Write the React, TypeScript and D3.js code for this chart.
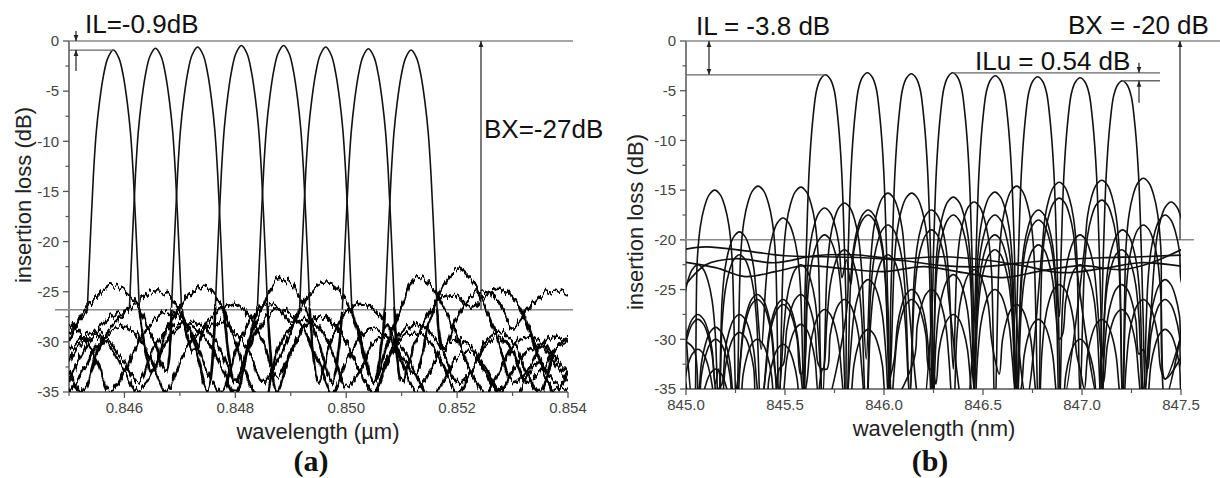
import React from "react";
import * as d3 from "d3";

// ---------- shared axis data ----------
const Y_TICKS = [0, -5, -10, -15, -20, -25, -30, -35];
const Y_MINOR = [-2.5, -7.5, -12.5, -17.5, -22.5, -27.5, -32.5];

// ---------- panel (a) ----------
const A_X_TICKS = [0.846, 0.848, 0.85, 0.852, 0.854];
const A_X_LABELS = ["0.846", "0.848", "0.850", "0.852", "0.854"];
const A_X_MINOR = [0.845, 0.847, 0.849, 0.851, 0.853];
const A_CENTERS = [0.8458, 0.84656, 0.84732, 0.84811, 0.84887, 0.84963, 0.8504, 0.85117];
const A_PEAKS = [-0.9, -0.72, -0.6, -0.45, -0.45, -0.6, -0.78, -0.9];
const A_LOBE_OFF = [-0.00047, -0.00044, -0.0004, -0.00036, -0.00031, -0.00025, -0.00018, -0.0001, 0, 0.0001, 0.00018, 0.00025, 0.00031, 0.00036, 0.0004, 0.00044, 0.00047];
const A_LOBE_DROP = [26, 22, 17, 12.5, 8.3, 5.2, 2.6, 0.8, 0, 0.8, 2.6, 5.2, 8.3, 12.5, 17, 22, 26];
const A_GRID = [0.845, 0.84525, 0.8455, 0.84575, 0.846, 0.84625, 0.8465, 0.84675, 0.847, 0.84725, 0.8475, 0.84775, 0.848, 0.84825, 0.8485, 0.84875, 0.849, 0.84925, 0.8495, 0.84975, 0.85, 0.85025, 0.8505, 0.85075, 0.851, 0.85125, 0.8515, 0.85175, 0.852, 0.85225, 0.8525, 0.85275, 0.853, 0.85325, 0.8535, 0.85375, 0.854];
const A_FLOOR_1 = [-29, -27.5, null, null, null, null, -33, -29, -26.5, -24.8, -24.6, -26.5, -30, -34, -36, -31, -28.5, -27.8, -28.5, -31, -34.5, -33, -30, -29.5, -30.5, -33, -36, -34, -31.5, -31, -32.5, -35, -36, -33.5, -32, -34, -35];
const A_FLOOR_2 = [-34, -31, -29, -27.5, -27, null, null, null, null, -31, -28, -26.8, -26.2, -27.5, -30, -33.5, -31, -28.5, -27.5, -28, -30, -33, -35, -32, -29.5, -29, -30, -32.5, -35, -33, -30.5, -29.5, -31, -34, -33, -31, -30];
const A_FLOOR_3 = [-30, -27, -25.5, -24.4, -24.8, -26.5, -29.5, -33, null, null, null, null, -34, -30.5, -28, -26.8, -27.2, -29, -32, -35, -32, -29.5, -28.8, -29.5, -32, -35, -33, -30.5, -29.8, -30.5, -33, -35, -33, -31, -30.5, -32, -34];
const A_FLOOR_4 = [-33, -35, -31, -28.5, -27.2, -26, -25, -25.2, -27, -30, -35, null, null, null, null, -35, -31, -28.5, -27.5, -28, -30, -33, -35, -31.5, -29, -28.2, -29, -31, -34, -33, -30, -29, -30, -33, -35, -31, -29.5];
const A_FLOOR_5 = [-31, -29.5, -29, -30, -32, -34, -31, -29, -28.2, -28.5, -30, -32.5, -35, -30, null, null, null, null, -34, -29.5, -27, -26.2, -26.8, -28.5, -31.5, -33, -28, -24.5, -22.9, -23.8, -26.5, -30, -34, -33, -30.5, -29.5, -30];
const A_FLOOR_6 = [-35, -33, -30.5, -29, -28.5, -29.5, -32, -35, -32, -29.5, -28.5, -28, -29, -31, -34, -32, -29, null, null, null, null, -30, -34, -30, -26.5, -23.6, -24.2, -26.5, -29.5, -33, -35, -33, -30.5, -29.5, -30, -31.5, -33];
const A_FLOOR_7 = [-32, -30, -29.5, -30.5, -33, -35, -33, -30, -28.5, -28, -28.8, -31, -34, -30, -26.5, -23.8, -24.2, -26.5, -30, -34, null, null, null, null, -34, -30, -27, -25.5, -25.5, -26.5, -25.5, -24.8, -25.5, -28, -32, -35, -33];
const A_FLOOR_8 = [-28, -29.5, -32, -35, -33, -30, -28, -27, -27.5, -29.5, -33, -35, -31, -28, -26.5, -26.5, -28, -26, -24.3, -24.2, -26, -29.5, -34, null, null, null, null, -31, -27.5, -25.5, -25, -26, -28.5, -27, -25.5, -24.8, -25.3];
const A_FLOORS = [A_FLOOR_1, A_FLOOR_2, A_FLOOR_3, A_FLOOR_4, A_FLOOR_5, A_FLOOR_6, A_FLOOR_7, A_FLOOR_8];

// ---------- panel (b) ----------
const B_X_TICKS = [845.0, 845.5, 846.0, 846.5, 847.0, 847.5];
const B_X_LABELS = ["845.0", "845.5", "846.0", "846.5", "847.0", "847.5"];
const B_X_MINOR = [845.25, 845.75, 846.25, 846.75, 847.25];
const B_CENTERS = [845.704, 845.916, 846.138, 846.347, 846.562, 846.776, 846.991, 847.204];
const B_PEAKS = [-3.4, -3.2, -3.3, -3.2, -3.5, -3.6, -3.7, -4.0];
const B_LOBE_OFF = [-0.105, -0.097, -0.09, -0.083, -0.074, -0.062, -0.045, -0.025, 0, 0.025, 0.045, 0.062, 0.074, 0.083, 0.09, 0.097, 0.105];
const B_LOBE_DROP = [24, 18, 13.5, 10, 7, 4.2, 1.6, 0.45, 0, 0.45, 1.6, 4.2, 7, 10, 13.5, 18, 24];
// side-lobe arch shape (offset nm, drop dB from top)
const B_HUMP_OFF = [-0.088, -0.072, -0.052, -0.029, 0, 0.029, 0.052, 0.072, 0.088];
const B_HUMP_DROP = [7, 3.6, 1.7, 0.5, 0, 0.5, 1.7, 3.6, 7];
// per channel: side-lobe tops [nm, dB] and explicit points (nulls) [nm, dB]
const B_HUMPS_1 = [[845.06, -22.5], [845.27, -19.2], [845.49, -17.8], [845.92, -24], [846.14, -26], [846.35, -27.5], [846.56, -25], [846.78, -28], [846.99, -30], [847.2, -27], [847.42, -29]];
const B_PTS_1 = [[844.98, -27], [845.165, -38], [845.38, -31], [845.597, -38], [845.81, -37], [846.03, -38], [846.245, -33], [846.455, -38], [846.67, -36], [846.885, -38], [847.1, -35], [847.31, -38], [847.55, -35]];
const B_HUMPS_2 = [[845.145, -15.0], [845.364, -14.6], [845.58, -14.7], [846.24, -25], [846.455, -23], [846.67, -26.5], [846.885, -24.5], [847.1, -28], [847.31, -26]];
const B_PTS_2 = [[844.98, -24], [845.04, -38], [845.255, -38], [845.47, -38], [845.7, -37], [846.05, -36], [846.35, -38], [846.56, -32], [846.78, -38], [846.99, -33], [847.205, -38], [847.42, -34], [847.55, -30]];
const B_HUMPS_3 = [[845.06, -28], [845.27, -21.5], [845.49, -26], [845.7, -16.8], [845.92, -17.5], [846.35, -17.5], [846.56, -19.5], [846.78, -20.5], [846.99, -22.5], [847.2, -24.5], [847.42, -26]];
const B_PTS_3 = [[845.165, -38], [845.38, -38], [845.595, -36], [845.81, -22], [846.03, -38], [846.245, -38], [846.455, -33], [846.67, -38], [846.885, -30], [847.1, -38], [847.31, -31], [847.55, -33]];
const B_HUMPS_4 = [[845.15, -28.8], [845.36, -26], [845.58, -22.5], [845.8, -16.3], [846.02, -15.3], [846.56, -15.2], [846.78, -18], [846.99, -19.5], [847.2, -21], [847.42, -24]];
const B_PTS_4 = [[844.98, -30], [845.04, -31], [845.255, -38], [845.47, -35], [845.69, -36], [845.91, -32], [846.19, -38], [846.455, -37], [846.67, -35], [846.885, -38], [847.1, -32], [847.31, -38], [847.55, -30]];
const B_HUMPS_5 = [[845.15, -30], [845.36, -25.5], [845.58, -28.5], [845.8, -26], [846.02, -21.5], [846.24, -19], [846.885, -14.2], [847.1, -16], [847.31, -18.5]];
const B_PTS_5 = [[844.98, -32], [845.04, -38], [845.255, -35], [845.47, -38], [845.69, -33], [845.91, -38], [846.13, -36], [846.41, -38], [846.72, -36], [846.99, -36], [847.205, -37], [847.42, -36], [847.55, -24]];
const B_HUMPS_6 = [[845.06, -27.5], [845.27, -29.3], [845.49, -26.5], [845.7, -19.5], [845.92, -17], [846.14, -15.3], [846.35, -15.7], [846.56, -17.5], [847.1, -14.0], [847.31, -13.8]];
const B_PTS_6 = [[844.98, -31], [845.165, -33], [845.38, -36], [845.595, -33], [845.81, -38], [846.03, -34], [846.245, -38], [846.455, -35], [846.67, -38], [846.9, -37], [847.205, -37], [847.42, -34], [847.55, -26]];
const B_HUMPS_7 = [[845.06, -31], [845.27, -27.5], [845.49, -30.5], [845.7, -27], [845.92, -29], [846.14, -25], [846.35, -23.5], [846.56, -21], [846.78, -17], [847.205, -19], [847.42, -17.5]];
const B_PTS_7 = [[844.98, -33], [845.165, -35], [845.38, -38], [845.595, -36], [845.81, -38], [846.03, -34], [846.245, -38], [846.455, -35], [846.67, -38], [847.1, -38], [847.31, -36], [847.55, -24]];
const B_HUMPS_8 = [[845.15, -33], [845.36, -30], [845.58, -25.5], [845.8, -21], [846.02, -18.5], [846.24, -17], [846.455, -16.2], [846.67, -14.6], [846.885, -15.8], [847.45, -16.2]];
const B_PTS_8 = [[844.98, -34], [845.04, -38], [845.255, -36], [845.47, -33], [845.69, -33], [845.91, -38], [846.13, -36], [846.35, -33], [846.56, -38], [846.78, -38], [847.08, -36], [847.32, -35]];
const B_HUMPS = [B_HUMPS_1, B_HUMPS_2, B_HUMPS_3, B_HUMPS_4, B_HUMPS_5, B_HUMPS_6, B_HUMPS_7, B_HUMPS_8];
const B_PTS = [B_PTS_1, B_PTS_2, B_PTS_3, B_PTS_4, B_PTS_5, B_PTS_6, B_PTS_7, B_PTS_8];
// smooth background traces (no pass band in range)
const B_SMOOTH_1 = [[844.98, -21.0], [845.1, -20.7], [845.3, -21.1], [845.5, -21.6], [845.7, -21.7], [845.9, -21.8], [846.1, -22.1], [846.3, -22.6], [846.5, -22.7], [846.7, -22.3], [846.9, -22.0], [847.1, -21.8], [847.3, -21.7], [847.55, -21.5]];
const B_SMOOTH_2 = [[844.98, -22.2], [845.15, -22.8], [845.3, -23.7], [845.45, -23.2], [845.6, -22.6], [845.8, -22.9], [846.0, -23.2], [846.2, -22.7], [846.4, -23.3], [846.6, -23.8], [846.8, -23.1], [847.0, -22.6], [847.2, -23.0], [847.35, -22.3], [847.55, -20.5]];
const B_SMOOTH_3 = [[844.98, -25], [845.1, -22.5], [845.25, -21.9], [845.45, -22.3], [845.65, -21.6], [845.85, -21.5], [846.05, -21.9], [846.3, -21.7], [846.5, -22.0], [846.7, -22.6], [846.9, -23.3], [847.1, -22.9], [847.3, -22.3], [847.55, -22.8]];
const B_SMOOTH = [B_SMOOTH_1, B_SMOOTH_2, B_SMOOTH_3];

// ---------- layout ----------
const W = 1220;
const H = 478;
const SANS = "'Liberation Sans', Arial, sans-serif";
const SERIF = "'Liberation Serif', 'Times New Roman', serif";
const xA = d3.scaleLinear().domain([0.845, 0.854]).range([69, 568]);
const yA = d3.scaleLinear().domain([0, -35]).range([41, 392]);
const xB = d3.scaleLinear().domain([845.0, 847.5]).range([686, 1181]);
const yB = d3.scaleLinear().domain([0, -35]).range([41, 389]);

type P = [number, number];

function Axes({ x, y, xt, xl, xm }: any) {
  const [x0, x1] = x.range();
  const [yTop, yBot] = y.range();
  return (
    <g>
      <line x1={x0} x2={x0} y1={yTop} y2={yBot} stroke="#555" strokeWidth={1.5} />
      <line x1={x0} x2={x1} y1={yBot} y2={yBot} stroke="#555" strokeWidth={1.5} />
      {Y_TICKS.map((t) => (
        <g key={"yt" + t}>
          <line x1={x0 - 6} x2={x0} y1={y(t)} y2={y(t)} stroke="#555" strokeWidth={1.3} />
          <text x={x0 - 10} y={y(t)} dy="0.35em" textAnchor="end" fontSize={15} fill="#444" fontFamily={SANS}>{String(t)}</text>
        </g>
      ))}
      {Y_MINOR.map((t) => (
        <line key={"ym" + t} x1={x0 - 3.5} x2={x0} y1={y(t)} y2={y(t)} stroke="#555" strokeWidth={1.2} />
      ))}
      {xt.map((t: number, i: number) => (
        <g key={"xt" + t}>
          <line x1={x(t)} x2={x(t)} y1={yBot} y2={yBot + 6} stroke="#555" strokeWidth={1.3} />
          <text x={x(t)} y={yBot + 21} textAnchor="middle" fontSize={15} fill="#444" fontFamily={SANS}>{xl[i]}</text>
        </g>
      ))}
      {xm.map((t: number) => (
        <line key={"xm" + t} x1={x(t)} x2={x(t)} y1={yBot} y2={yBot + 4} stroke="#555" strokeWidth={1.2} />
      ))}
    </g>
  );
}

export default function App() {
  const lineA = d3.line<P>().x((d) => xA(d[0])).y((d) => yA(d[1])).curve(d3.curveCatmullRom.alpha(0.5));
  const lineB = d3.line<P>().x((d) => xB(d[0])).y((d) => yB(d[1])).curve(d3.curveCatmullRom.alpha(0.5));

  const chA = A_CENTERS.map((c, i) => {
    const pk = A_PEAKS[i];
    const lobe: P[] = A_LOBE_OFF.map((o, j) => [c + o, pk - A_LOBE_DROP[j]]);
    const fl: P[] = A_GRID.map((g, k) => [g, A_FLOORS[i][k]] as any).filter((d: any) => d[1] !== null);
    const left: P[] = fl.filter((d) => d[0] < c - 0.0005).concat([lobe[0]]);
    const right: P[] = [lobe[lobe.length - 1] as P].concat(fl.filter((d) => d[0] > c + 0.0005));
    return { lobe, left, right };
  });

  const chB = B_CENTERS.map((c, i) => {
    const pk = B_PEAKS[i];
    const lobe: P[] = B_LOBE_OFF.map((o, j) => [c + o, pk - B_LOBE_DROP[j]]);
    const humps: P[] = [];
    (B_HUMPS[i] as P[]).forEach((h) => {
      B_HUMP_OFF.forEach((o, j) => humps.push([h[0] + o, h[1] - B_HUMP_DROP[j]]));
    });
    return (B_PTS[i] as P[]).concat(lobe, humps).sort((a, b) => a[0] - b[0]);
  });

  const grey = "#8a8a8a";
  const dark = "#222";

  return (
    <svg width={W} height={H} viewBox={`0 0 ${W} ${H}`} style={{ display: "block", position: "absolute", left: 0, top: 0, background: "#fff" }}>
      <defs>
        <clipPath id="clipA">
          <rect x={xA.range()[0]} y={20} width={xA.range()[1] - xA.range()[0]} height={yA(-35) - 20} />
        </clipPath>
        <clipPath id="clipB">
          <rect x={xB.range()[0]} y={20} width={xB.range()[1] - xB.range()[0]} height={yB(-35) - 20} />
        </clipPath>
        <filter id="jitA" filterUnits="userSpaceOnUse" x={50} y={150} width={540} height={260} colorInterpolationFilters="sRGB">
          <feTurbulence type="fractalNoise" baseFrequency="0.32 0.05" numOctaves={3} seed={7} result="noise" />
          <feColorMatrix in="noise" type="matrix" values="0 0 0 0 0.5  0 1 0 0 0  0 0 0 0 0  0 0 0 0 1" result="map" />
          <feDisplacementMap in="SourceGraphic" in2="map" scale={13} xChannelSelector="R" yChannelSelector="G" />
        </filter>
        <marker id="ah" viewBox="0 0 10 10" refX={10} refY={5} markerWidth={6} markerHeight={6} markerUnits="userSpaceOnUse" orient="auto-start-reverse">
          <path d="M0,1 L10,5 L0,9 z" fill={dark} />
        </marker>
      </defs>

      {/* ---------------- panel (a) ---------------- */}
      <Axes x={xA} y={yA} xt={A_X_TICKS} xl={A_X_LABELS} xm={A_X_MINOR} />
      <line x1={xA(0.845)} x2={573} y1={yA(0)} y2={yA(0)} stroke={grey} strokeWidth={1.5} />
      <line x1={55} x2={573} y1={yA(-26.8)} y2={yA(-26.8)} stroke={grey} strokeWidth={1.5} />
      <g clipPath="url(#clipA)">
        <g filter="url(#jitA)">
          {chA.map((c, i) => (
            <g key={"fa" + i}>
              <path d={lineA(c.left) || ""} fill="none" stroke="#000" strokeWidth={2.5} />
              <path d={lineA(c.right) || ""} fill="none" stroke="#000" strokeWidth={2.5} />
            </g>
          ))}
        </g>
        {chA.map((c, i) => (
          <path key={"pa" + i} d={lineA(c.lobe) || ""} fill="none" stroke="#111" strokeWidth={1.6} />
        ))}
      </g>
      <line x1={xA(0.845)} x2={xA(A_CENTERS[0])} y1={yA(A_PEAKS[0])} y2={yA(A_PEAKS[0])} stroke="#666" strokeWidth={1.3} />
      <line x1={76} x2={76} y1={yA(1.0)} y2={yA(0)} stroke={dark} strokeWidth={1.2} markerEnd="url(#ah)" />
      <line x1={76} x2={76} y1={yA(-3.0)} y2={yA(A_PEAKS[0])} stroke={dark} strokeWidth={1.2} markerEnd="url(#ah)" />
      <line x1={481} x2={481} y1={yA(-26.8)} y2={yA(0)} stroke={dark} strokeWidth={1.2} markerEnd="url(#ah)" />
      <text x={85} y={33} fontSize={26} fontFamily={SANS} fill="#111">IL=-0.9dB</text>
      <text x={484} y={138} fontSize={26} fontFamily={SANS} fill="#111">BX=-27dB</text>
      <text transform={`translate(31,195) rotate(-90)`} textAnchor="middle" fontSize={22} fontFamily={SANS} fill="#222">insertion loss (dB)</text>
      <text x={318} y={439} textAnchor="middle" fontSize={22} fontFamily={SANS} fill="#222">wavelength (µm)</text>
      <text x={311} y={471} textAnchor="middle" fontSize={30} fontWeight="bold" fontFamily={SERIF} fill="#111">(a)</text>

      {/* ---------------- panel (b) ---------------- */}
      <Axes x={xB} y={yB} xt={B_X_TICKS} xl={B_X_LABELS} xm={B_X_MINOR} />
      <line x1={xB(845)} x2={1220} y1={yB(0)} y2={yB(0)} stroke={grey} strokeWidth={1.5} />
      <line x1={684} x2={1194} y1={yB(-20)} y2={yB(-20)} stroke={grey} strokeWidth={1.5} />
      <g clipPath="url(#clipB)">
        {B_SMOOTH.map((pts, i) => (
          <path key={"sb" + i} d={lineB(pts as P[]) || ""} fill="none" stroke="#111" strokeWidth={1.7} />
        ))}
        {chB.map((pts, i) => (
          <path key={"pb" + i} d={lineB(pts) || ""} fill="none" stroke="#111" strokeWidth={1.6} />
        ))}
      </g>
      <line x1={xB(845)} x2={xB(B_CENTERS[0])} y1={yB(B_PEAKS[0])} y2={yB(B_PEAKS[0])} stroke="#666" strokeWidth={1.3} />
      <line x1={xB(B_CENTERS[3])} x2={1160} y1={yB(B_PEAKS[3])} y2={yB(B_PEAKS[3])} stroke="#666" strokeWidth={1.3} />
      <line x1={xB(B_CENTERS[7])} x2={1160} y1={yB(B_PEAKS[7])} y2={yB(B_PEAKS[7])} stroke="#666" strokeWidth={1.3} />
      <line x1={709} x2={709} y1={yB(0)} y2={yB(B_PEAKS[0])} stroke={dark} strokeWidth={1.2} markerStart="url(#ah)" markerEnd="url(#ah)" />
      <line x1={1139} x2={1139} y1={yB(-2.2)} y2={yB(B_PEAKS[3])} stroke={dark} strokeWidth={1.2} markerEnd="url(#ah)" />
      <line x1={1139} x2={1139} y1={yB(-6.2)} y2={yB(B_PEAKS[7])} stroke={dark} strokeWidth={1.2} markerEnd="url(#ah)" />
      <line x1={1180} x2={1180} y1={yB(-20)} y2={yB(0)} stroke={dark} strokeWidth={1.2} markerEnd="url(#ah)" />
      <text x={696} y={35} fontSize={26} fontFamily={SANS} fill="#111">IL = -3.8 dB</text>
      <text x={1068} y={34} fontSize={26} fontFamily={SANS} fill="#111">BX = -20 dB</text>
      <text x={975} y={70} fontSize={26} fontFamily={SANS} fill="#111">ILu = 0.54 dB</text>
      <text transform={`translate(643,222) rotate(-90)`} textAnchor="middle" fontSize={22} fontFamily={SANS} fill="#222">insertion loss (dB)</text>
      <text x={934} y={436} textAnchor="middle" fontSize={22} fontFamily={SANS} fill="#222">wavelength (nm)</text>
      <text x={930} y={471} textAnchor="middle" fontSize={30} fontWeight="bold" fontFamily={SERIF} fill="#111">(b)</text>
    </svg>
  );
}
